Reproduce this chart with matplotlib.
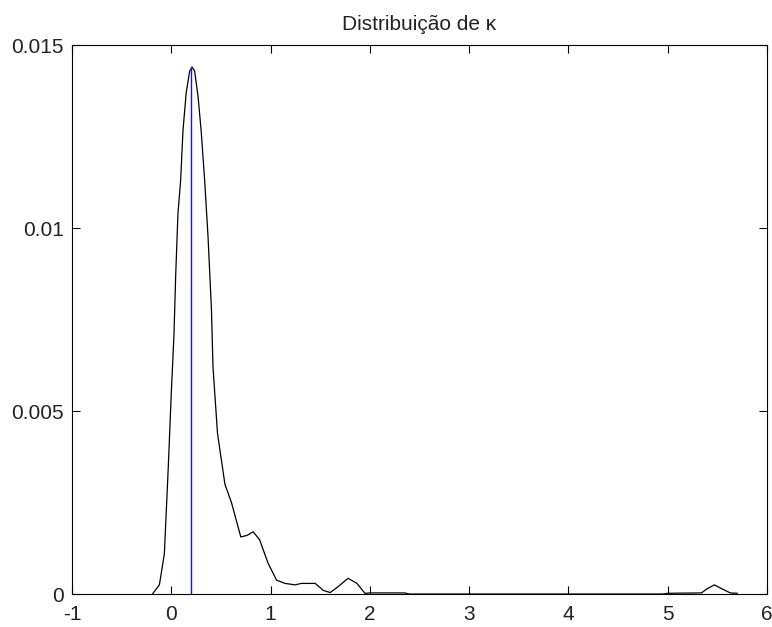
import matplotlib
matplotlib.use("Agg")
import matplotlib.pyplot as plt
import numpy as np

plt.rcParams['font.family'] = ['Liberation Sans', 'DejaVu Sans']

# density curve
kappa_x = [-0.19, -0.12, -0.07, -0.03, 0.0, 0.027, 0.044, 0.067, 0.094, 0.118, 0.15,
           0.185, 0.21, 0.235, 0.27, 0.30, 0.336, 0.37, 0.404, 0.42, 0.465, 0.54,
           0.606, 0.70, 0.76, 0.825, 0.89, 0.975, 1.06, 1.145, 1.246, 1.31, 1.45,
           1.53, 1.6, 1.68, 1.78, 1.87, 1.95, 2.0, 2.35, 2.4, 4.95, 5.0, 5.34, 5.40,
           5.47, 5.54, 5.63, 5.7]
density = [0.0, 0.00025, 0.0011, 0.0035, 0.0055, 0.0071, 0.0087, 0.0104, 0.0113, 0.01268,
           0.0137, 0.01429, 0.0144, 0.01429, 0.01358, 0.01268, 0.0113, 0.00976, 0.0078,
           0.0062, 0.0044, 0.0030, 0.0025, 0.00156, 0.0016, 0.0017, 0.00148, 0.00084,
           0.00038, 0.00029, 0.00025, 0.00029, 0.00029, 0.0001, 0.00004, 0.0002, 0.00043,
           0.00029, 0.00002, 0.00003, 0.00003, 0.0, 0.0, 0.00002, 0.00003, 0.00015,
           0.00025, 0.00015, 0.00003, 0.00002]

# estimate marker (vertical line)
kappa_hat = 0.2
kappa_hat_density = 0.0144

xticks = [-1, 0, 1, 2, 3, 4, 5, 6]
yticks = [0, 0.005, 0.01, 0.015]
yticklabels = ['0', '0.005', '0.01', '0.015']

fig = plt.figure(figsize=(7.72, 6.27), dpi=100)
ax = fig.add_axes([0.0933, 0.0526, 0.9002, 0.8754])

ax.plot(kappa_x, density, color='black', lw=0.9)
ax.plot([kappa_hat, kappa_hat], [0, kappa_hat_density], color='#1414e0', lw=1.0)

ax.set_xlim(-1, 6)
ax.set_ylim(0, 0.015)
ax.set_xticks(xticks)
ax.set_xticklabels([str(t) for t in xticks])
ax.set_yticks(yticks)
ax.set_yticklabels(yticklabels)
ax.tick_params(direction='in', length=6, width=0.8, top=True, right=True,
               labelsize=15, labelcolor='#222222')
ax.tick_params(axis='x', pad=8)
ax.tick_params(axis='y', pad=6)
for s in ax.spines.values():
    s.set_linewidth(0.8)
ax.set_title('Distribuição de κ', fontsize=15, pad=11, color='#222222')

fig.savefig('out.png', dpi=100)
